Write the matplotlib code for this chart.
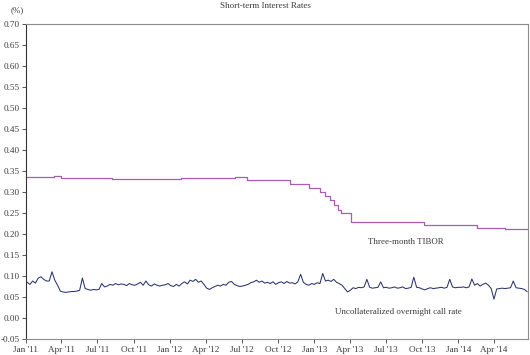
"""
Short-term interest rates, Jan 2011 - Jun 2014.
Three-month TIBOR (step changes) and the uncollateralized overnight
call rate (weekly readings, Tuesdays).
"""
import matplotlib
matplotlib.use("Agg")
import matplotlib.pyplot as plt
import numpy as np
import pandas as pd


TITLE = "Short-term Interest Rates"
TIBOR_LABEL = "Three-month TIBOR"
CALL_LABEL = "Uncollateralized overnight call rate"

# Three-month TIBOR: date of each change and the rate from then on (%)
TIBOR_DATES = [
    "2011-01-01", "2011-03-13", "2011-03-31", "2011-08-06", "2012-01-28",
    "2012-06-15", "2012-07-15", "2012-10-30", "2012-12-19", "2013-01-16",
    "2013-01-28", "2013-02-10", "2013-02-20", "2013-03-03", "2013-03-10",
    "2013-04-04", "2013-10-06", "2014-02-17", "2014-04-29", "2014-06-26"]
TIBOR_VALUES = [
    0.336, 0.338, 0.334, 0.330, 0.333,
    0.336, 0.328, 0.318, 0.309, 0.300,
    0.290, 0.280, 0.270, 0.258, 0.251,
    0.229, 0.222, 0.214, 0.211, 0.211]

# Overnight call rate, one reading per week (%)
CALL_START = "2011-01-04"
CALL_VALUES = [
    # 2011
    0.085, 0.080, 0.088, 0.083,
    0.095, 0.098, 0.092, 0.088,
    0.088, 0.110, 0.090, 0.078, 0.064,
    0.062, 0.061, 0.062, 0.063,
    0.063, 0.064, 0.066, 0.095, 0.070,
    0.068, 0.066, 0.068, 0.067,
    0.068, 0.082, 0.074, 0.076,
    0.080, 0.078, 0.082, 0.079, 0.081,
    0.080, 0.077, 0.082, 0.079,
    0.078, 0.081, 0.085, 0.078,
    0.088, 0.079, 0.076, 0.081, 0.078,
    0.076, 0.078, 0.079, 0.082,
    # 2012
    0.077, 0.075, 0.080, 0.076, 0.082,
    0.086, 0.081, 0.090, 0.087,
    0.092, 0.085, 0.088, 0.080,
    0.071, 0.068, 0.072, 0.075,
    0.078, 0.076, 0.080, 0.078, 0.085,
    0.087, 0.080, 0.077, 0.075,
    0.076, 0.078, 0.080, 0.084, 0.086,
    0.090, 0.085, 0.088, 0.083,
    0.085, 0.082, 0.086, 0.080,
    0.084, 0.086, 0.082, 0.087, 0.083,
    0.084, 0.081, 0.086, 0.104,
    0.085, 0.080, 0.078, 0.082,
    # 2013
    0.080, 0.084, 0.082, 0.106, 0.088,
    0.090, 0.087, 0.092, 0.085,
    0.082, 0.078, 0.070, 0.062,
    0.066, 0.072, 0.070, 0.073, 0.072,
    0.074, 0.092, 0.073, 0.071,
    0.072, 0.073, 0.086, 0.072,
    0.073, 0.071, 0.072, 0.074, 0.071,
    0.072, 0.074, 0.070, 0.071,
    0.073, 0.097, 0.073, 0.072,
    0.069, 0.067, 0.070, 0.072, 0.070,
    0.071, 0.072, 0.073, 0.071,
    0.073, 0.092, 0.074, 0.072, 0.073,
    # 2014
    0.073, 0.074, 0.072, 0.074,
    0.093, 0.078, 0.082, 0.076,
    0.080, 0.083, 0.078, 0.070,
    0.045, 0.069, 0.070, 0.071, 0.070,
    0.071, 0.072, 0.088, 0.072,
    0.071, 0.070, 0.068, 0.063]

Y_TICKS = np.arange(-0.05, 0.7001, 0.05)
X_TICKS = pd.date_range("2011-01-01", "2014-04-01", freq="QS")
X_END = "2014-06-26"

TIBOR_COLOR = "#a95db2"
CALL_COLOR = "#2a346f"
TEXT_COLOR = "#3a3a3a"
FONT = "Liberation Serif"

plt.rcParams["font.family"] = FONT

tibor_dates = pd.to_datetime(TIBOR_DATES)
call_dates = pd.date_range(CALL_START, periods=len(CALL_VALUES), freq="7D")

fig = plt.figure(figsize=(5.3, 3.55), dpi=100)
ax = fig.add_axes([0.049, 0.045, 0.947, 0.888])

ax.plot(tibor_dates, TIBOR_VALUES, color=TIBOR_COLOR, lw=0.9,
        drawstyle="steps-post")
ax.plot(call_dates, CALL_VALUES, color=CALL_COLOR, lw=0.75)

ax.set_ylim(-0.05, 0.70)
ax.set_xlim(pd.Timestamp("2011-01-01"), pd.Timestamp(X_END))
ax.set_yticks(Y_TICKS)
ax.set_yticklabels([f"{v:.2f}" for v in Y_TICKS])
ax.set_xticks(X_TICKS)
ax.set_xticklabels([d.strftime("%b '%y") for d in X_TICKS])

ax.tick_params(axis="both", colors=TEXT_COLOR, length=3, width=0.6)
ax.tick_params(axis="y", labelsize=6.6, pad=1.5)
ax.tick_params(axis="x", labelsize=6.6, pad=2)
for side in ("top", "right", "bottom"):
    ax.spines[side].set_color("#8c8c8c")
    ax.spines[side].set_linewidth(0.8)
ax.spines["left"].set_color("#333333")
ax.spines["left"].set_linewidth(0.8)

ax.text(pd.Timestamp("2013-08-20"), 0.181, TIBOR_LABEL, fontsize=6.4,
        color=TEXT_COLOR, ha="center", va="center")
ax.text(pd.Timestamp("2013-08-01"), 0.014, CALL_LABEL, fontsize=6.4,
        color=TEXT_COLOR, ha="center", va="center")

fig.text(0.5, 0.983, TITLE, fontsize=6.5, color=TEXT_COLOR,
         ha="center", va="center")
fig.text(0.033, 0.972, "(%)", fontsize=6.5, color=TEXT_COLOR,
         ha="center", va="center")

fig.savefig("out.png", dpi=100)
